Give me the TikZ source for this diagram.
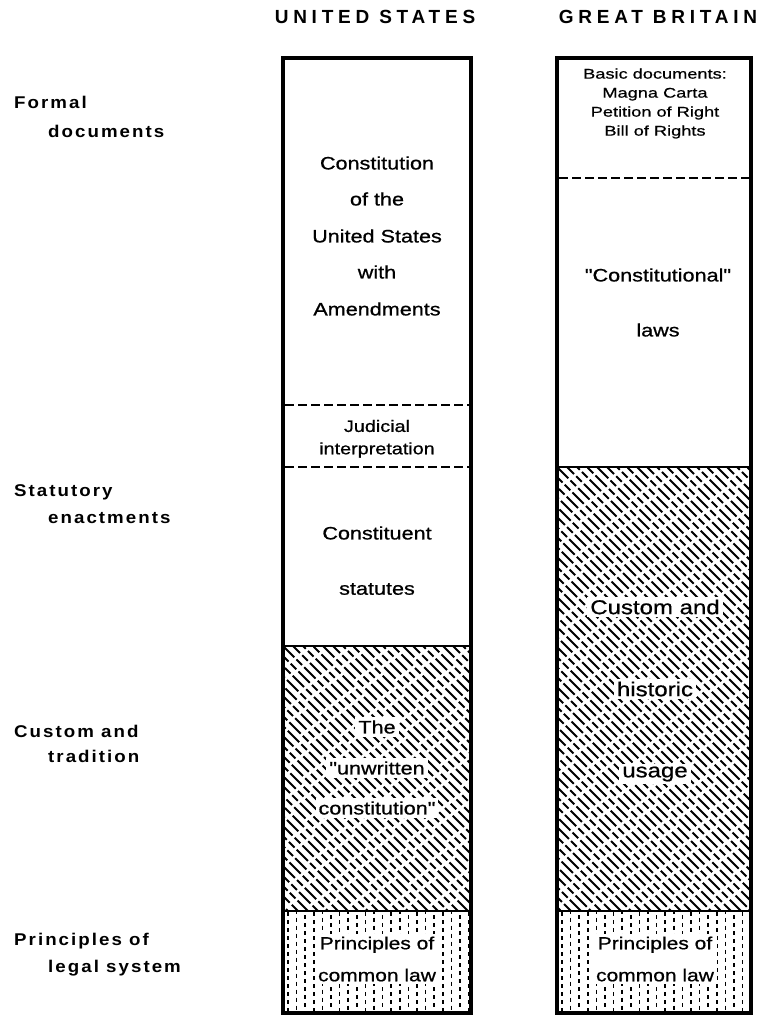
\documentclass[tikz,border=0pt]{standalone}
\usepackage{fontspec}
\setmainfont{Liberation Sans}
\newfontfamily\bodyf[FakeStretch=1.2,FakeBold=0.8]{Liberation Sans}
\newfontfamily\smallf[FakeStretch=1.3,FakeBold=0.6]{Liberation Sans}
\newfontfamily\labf[FakeStretch=1.1,LetterSpace=12]{Liberation Sans}
\newfontfamily\headf[LetterSpace=25]{Liberation Sans}
\tikzset{
  frame/.style={line width=4pt},
  solidsep/.style={line width=2pt},
  dashsep/.style={line width=1.6pt, dash pattern=on 9pt off 4pt},
  hatchline/.style={line width=1.8pt, dash pattern=on 16pt off 3pt on 8pt off 3pt},
  vdash/.style={line width=1.5pt, dash pattern=on 4pt off 4pt},
  body/.style={font=\bodyf\fontsize{18}{20}\selectfont, inner sep=2pt, align=center},
  bodyw/.style={body, fill=white, inner sep=3pt},
  small/.style={font=\smallf\fontsize{14}{19}\selectfont, align=center, inner sep=1pt},
  lab/.style={font=\labf\bfseries\fontsize{17}{18}\selectfont, anchor=west, inner sep=0pt},
  head/.style={font=\headf\bfseries\fontsize{19}{20}\selectfont, inner sep=0pt}
}
\begin{document}
\begin{tikzpicture}[x=1pt,y=-1pt]
\useasboundingbox (0,0) rectangle (764,1022);
\fill[white] (0,0) rectangle (764,1022);

% ---------- headers
\node[head] (hus) at (375,17) {UNITED STATES};
\node[head] (hgb) at (658,17) {GREAT BRITAIN};

% ---------- left labels
\node[lab] (l1a) at (14,102) {Formal};
\node[lab] (l1b) at (48,131) {documents};
\node[lab] (l2a) at (14,492) {Statutory};
\node[lab] (l2b) at (48,518) {enactments};
\node[lab] (l3a) at (14,731) {Custom and};
\node[lab] (l3b) at (48,756) {tradition};
\node[lab] (l4a) at (14,941) {Principles of};
\node[lab] (l4b) at (48,968) {legal system};

% ---------- US column patterns
\begin{scope}
  \clip (283,646) rectangle (471,911);
  \foreach \k in {-28,...,20} {
    \draw[hatchline, dash phase={mod(\k,4)*6pt}] (283+\k*10,646) -- ++(300,300);
  }
\end{scope}
\begin{scope}
  \clip (283,911) rectangle (471,1013);
  \foreach \k in {0,...,21} {
    \draw[vdash, dash phase={mod(\k,3)*2.5pt}] (288+\k*8.6,912) -- (288+\k*8.6,1013);
  }
\end{scope}

% ---------- GB column patterns
\begin{scope}
  \clip (557,467) rectangle (751,911);
  \foreach \k in {-46,...,20} {
    \draw[hatchline, dash phase={mod(\k,4)*6pt}] (557+\k*10,467) -- ++(500,500);
  }
\end{scope}
\begin{scope}
  \clip (557,911) rectangle (751,1013);
  \foreach \k in {0,...,22} {
    \draw[vdash, dash phase={mod(\k,3)*2.5pt}] (562+\k*8.6,912) -- (562+\k*8.6,1013);
  }
\end{scope}

% ---------- US separators
\draw[dashsep] (285,405) -- (469,405);
\draw[dashsep] (285,467) -- (469,467);
\draw[solidsep] (285,646) -- (469,646);
\draw[line width=1.4pt] (285,911) -- (469,911);

% ---------- GB separators
\draw[dashsep] (559,178) -- (749,178);
\draw[line width=2.6pt] (559,467) -- (749,467);
\draw[line width=1.4pt] (559,911) -- (749,911);

% ---------- frames
\draw[frame] (283,58) rectangle (471,1013);
\draw[frame] (557,58) rectangle (751,1013);

% ---------- US texts
\node[body] (c1) at (377,163) {Constitution};
\node[body] (c2) at (377,199) {of the};
\node[body] (c3) at (377,236) {United States};
\node[body] (c4) at (377,272) {with};
\node[body] (c5) at (377,309) {Amendments};
\node[body, font=\bodyf\fontsize{16.5}{18}\selectfont] (j1) at (377,426) {Judicial};
\node[body, font=\bodyf\fontsize{16.5}{18}\selectfont] (j2) at (377,450) {interpretation};
\node[body] (s1) at (377,533) {Constituent};
\node[body] (s2) at (377,589) {statutes};
\node[bodyw] (u1) at (377,727) {The};
\node[bodyw] (u2) at (377,768) {"unwritten};
\node[bodyw] (u3) at (377,808) {constitution"};
\node[bodyw, font=\bodyf\fontsize{17.5}{32}\selectfont] (p1) at (377,959) {Principles of\\common law};

% ---------- GB texts
\node[small] (b1) at (655,103.5) {Basic documents:\\Magna Carta\\Petition of Right\\Bill of Rights};
\node[body] (g1) at (658,275) {"Constitutional"};
\node[body] (g2) at (658,330) {laws};
\node[bodyw, font=\bodyf\fontsize{20}{22}\selectfont] (h1) at (655,607) {Custom and};
\node[bodyw, font=\bodyf\fontsize{20}{22}\selectfont] (h2) at (655,689) {historic};
\node[bodyw, font=\bodyf\fontsize{20}{22}\selectfont] (h3) at (655,774) {usage};
\node[bodyw, font=\bodyf\fontsize{17.5}{32}\selectfont] (p2) at (655,959) {Principles of\\common law};
\end{tikzpicture}
\end{document}
